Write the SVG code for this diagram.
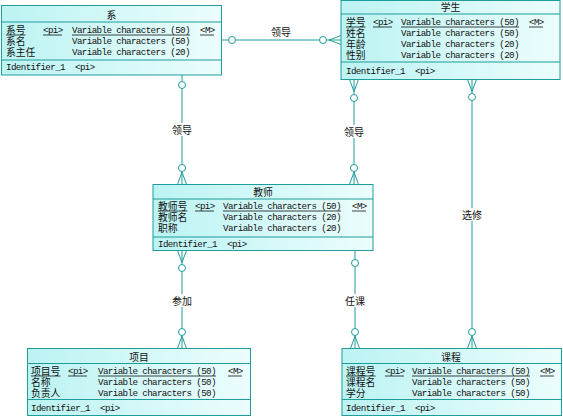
<svg xmlns="http://www.w3.org/2000/svg" width="563" height="417" viewBox="0 0 563 417">
<defs>
<linearGradient id="fill" x1="0" y1="0" x2="1" y2="0">
<stop offset="0" stop-color="#bcf3f3"/>
<stop offset="1" stop-color="#ecfdfd"/>
</linearGradient>
</defs>
<style>
.box{fill:url(#fill);stroke:#1f9c9c;stroke-width:1}
.sep{stroke:#1f9c9c;stroke-width:1}
.cj{font-family:"Noto Sans CJK SC","Noto Sans",sans-serif;font-size:9.8px;fill:#111}
.mo{font-family:"Liberation Mono","DejaVu Sans Mono",monospace;font-size:9.2px;letter-spacing:-0.6px;fill:#111}
.ttl{text-anchor:middle}
.ul{stroke:#111;stroke-width:0.8}
.cn{stroke:#1f9c9c;stroke-width:1;fill:none}
.ci{stroke:#1f9c9c;stroke-width:1;fill:#fff}
.lb{font-family:"Noto Sans CJK SC","Noto Sans",sans-serif;font-size:10px;fill:#111;text-anchor:middle}
.lbg{fill:#fff}
</style>

<g id="connectors">
<line class="cn" x1="221.5" y1="40" x2="341" y2="40"/>
<circle class="ci" cx="232" cy="40" r="3.5"/>
<circle class="ci" cx="323" cy="40" r="3.5"/>
<path class="cn" d="M341 35.5 L329 40 L341 44.5"/>
<text class="lb" x="281" y="35.5">领导</text>

<line class="cn" x1="182" y1="75" x2="182" y2="184.5"/>
<circle class="ci" cx="182" cy="85" r="3.5"/>
<circle class="ci" cx="182" cy="168" r="3.5"/>
<path class="cn" d="M177.5 184.5 L182 172 L186.5 184.5"/>
<rect class="lbg" x="171" y="123" width="22" height="13"/>
<text class="lb" x="182" y="133.5">领导</text>

<line class="cn" x1="354" y1="79.5" x2="354" y2="184.5"/>
<path class="cn" d="M349.5 79.5 L354 91.5 L358.5 79.5"/>
<circle class="ci" cx="354" cy="98" r="3.5"/>
<circle class="ci" cx="354" cy="168" r="3.5"/>
<path class="cn" d="M349.5 184.5 L354 172 L358.5 184.5"/>
<rect class="lbg" x="343" y="125" width="22" height="13"/>
<text class="lb" x="354" y="135.5">领导</text>

<line class="cn" x1="472" y1="79.5" x2="472" y2="348.5"/>
<path class="cn" d="M467.5 79.5 L472 91.5 L476.5 79.5"/>
<circle class="ci" cx="472" cy="97" r="3.5"/>
<circle class="ci" cx="472" cy="332" r="3.5"/>
<path class="cn" d="M467.5 348.5 L472 336 L476.5 348.5"/>
<rect class="lbg" x="461" y="208" width="22" height="13"/>
<text class="lb" x="472" y="218.5">选修</text>

<line class="cn" x1="182" y1="250.5" x2="182" y2="348.5"/>
<path class="cn" d="M177.5 250.5 L182 262.5 L186.5 250.5"/>
<circle class="ci" cx="182" cy="268" r="3.5"/>
<circle class="ci" cx="182" cy="332" r="3.5"/>
<path class="cn" d="M177.5 348.5 L182 336 L186.5 348.5"/>
<rect class="lbg" x="171" y="294" width="22" height="13"/>
<text class="lb" x="182" y="304.5">参加</text>

<line class="cn" x1="355" y1="250.5" x2="355" y2="348.5"/>
<circle class="ci" cx="355" cy="263" r="3.5"/>
<circle class="ci" cx="355" cy="332" r="3.5"/>
<path class="cn" d="M350.5 348.5 L355 336 L359.5 348.5"/>
<rect class="lbg" x="344" y="294" width="22" height="13"/>
<text class="lb" x="355" y="304.5">任课</text>
</g>

<g id="xi">
<rect class="box" x="1.5" y="5.5" width="220" height="69.5"/>
<text class="cj ttl" x="111.5" y="18.5">系</text>
<line class="sep" x1="1.5" y1="22" x2="221.5" y2="22"/>
<text class="cj" x="6" y="33.5">系号</text>
<text class="mo" x="43" y="33">&lt;pi&gt;</text>
<text class="mo" x="72" y="33">Variable characters (50)</text>
<text class="mo" x="200" y="33">&lt;M&gt;</text>
<line class="ul" x1="6" y1="35" x2="25.5" y2="35"/>
<line class="ul" x1="43" y1="35" x2="62" y2="35"/>
<line class="ul" x1="72" y1="35" x2="190" y2="35"/>
<line class="ul" x1="200" y1="35" x2="214" y2="35"/>
<text class="cj" x="6" y="44.5">系名</text>
<text class="mo" x="72" y="44">Variable characters (50)</text>
<text class="cj" x="6" y="55.5">系主任</text>
<text class="mo" x="72" y="55">Variable characters (20)</text>
<line class="sep" x1="1.5" y1="60" x2="221.5" y2="60"/>
<text class="mo" x="6" y="70">Identifier_1</text>
<text class="mo" x="75" y="70">&lt;pi&gt;</text>
</g>

<g id="xuesheng">
<rect class="box" x="341" y="0.5" width="219" height="79"/>
<text class="cj ttl" x="450.5" y="10.5">学生</text>
<line class="sep" x1="341" y1="14" x2="560" y2="14"/>
<text class="cj" x="346" y="25.5">学号</text>
<text class="mo" x="373" y="25">&lt;pi&gt;</text>
<text class="mo" x="401" y="25">Variable characters (50)</text>
<text class="mo" x="529" y="25">&lt;M&gt;</text>
<line class="ul" x1="346" y1="27" x2="365.5" y2="27"/>
<line class="ul" x1="373" y1="27" x2="392" y2="27"/>
<line class="ul" x1="401" y1="27" x2="519" y2="27"/>
<line class="ul" x1="529" y1="27" x2="543" y2="27"/>
<text class="cj" x="346" y="36.5">姓名</text>
<text class="mo" x="401" y="36">Variable characters (50)</text>
<text class="cj" x="346" y="47.5">年龄</text>
<text class="mo" x="401" y="47">Variable characters (20)</text>
<text class="cj" x="346" y="58.5">性别</text>
<text class="mo" x="401" y="58">Variable characters (20)</text>
<line class="sep" x1="341" y1="62" x2="560" y2="62"/>
<text class="mo" x="346" y="74">Identifier_1</text>
<text class="mo" x="415" y="74">&lt;pi&gt;</text>
</g>

<g id="jiaoshi">
<rect class="box" x="153" y="184.5" width="220" height="66"/>
<text class="cj ttl" x="263" y="195.5">教师</text>
<line class="sep" x1="153" y1="199" x2="373" y2="199"/>
<text class="cj" x="158" y="209.5">教师号</text>
<text class="mo" x="195" y="209">&lt;pi&gt;</text>
<text class="mo" x="223" y="209">Variable characters (50)</text>
<text class="mo" x="352" y="209">&lt;M&gt;</text>
<line class="ul" x1="158" y1="211" x2="187.5" y2="211"/>
<line class="ul" x1="195" y1="211" x2="214" y2="211"/>
<line class="ul" x1="223" y1="211" x2="341" y2="211"/>
<line class="ul" x1="352" y1="211" x2="366" y2="211"/>
<text class="cj" x="158" y="220.5">教师名</text>
<text class="mo" x="223" y="220">Variable characters (20)</text>
<text class="cj" x="158" y="231.5">职称</text>
<text class="mo" x="223" y="231">Variable characters (20)</text>
<line class="sep" x1="153" y1="237" x2="373" y2="237"/>
<text class="mo" x="158" y="246.5">Identifier_1</text>
<text class="mo" x="227" y="246.5">&lt;pi&gt;</text>
</g>

<g id="xiangmu">
<rect class="box" x="27.5" y="348.5" width="223" height="67"/>
<text class="cj ttl" x="139" y="360.5">项目</text>
<line class="sep" x1="27.5" y1="363.5" x2="250.5" y2="363.5"/>
<text class="cj" x="31" y="374.5">项目号</text>
<text class="mo" x="68" y="374">&lt;pi&gt;</text>
<text class="mo" x="98" y="374">Variable characters (50)</text>
<text class="mo" x="228" y="374">&lt;M&gt;</text>
<line class="ul" x1="31" y1="376" x2="60.5" y2="376"/>
<line class="ul" x1="68" y1="376" x2="87" y2="376"/>
<line class="ul" x1="98" y1="376" x2="216" y2="376"/>
<line class="ul" x1="228" y1="376" x2="242" y2="376"/>
<text class="cj" x="31" y="385.5">名称</text>
<text class="mo" x="98" y="385">Variable characters (50)</text>
<text class="cj" x="31" y="396.5">负责人</text>
<text class="mo" x="98" y="396">Variable characters (50)</text>
<line class="sep" x1="27.5" y1="399.5" x2="250.5" y2="399.5"/>
<text class="mo" x="31" y="411">Identifier_1</text>
<text class="mo" x="100" y="411">&lt;pi&gt;</text>
</g>

<g id="kecheng">
<rect class="box" x="342" y="348.5" width="219.5" height="67"/>
<text class="cj ttl" x="451" y="360.5">课程</text>
<line class="sep" x1="342" y1="363.5" x2="561.5" y2="363.5"/>
<text class="cj" x="346" y="374.5">课程号</text>
<text class="mo" x="385" y="374">&lt;pi&gt;</text>
<text class="mo" x="412" y="374">Variable characters (50)</text>
<text class="mo" x="540" y="374">&lt;M&gt;</text>
<line class="ul" x1="346" y1="376" x2="375.5" y2="376"/>
<line class="ul" x1="385" y1="376" x2="404" y2="376"/>
<line class="ul" x1="412" y1="376" x2="530" y2="376"/>
<line class="ul" x1="540" y1="376" x2="554" y2="376"/>
<text class="cj" x="346" y="385.5">课程名</text>
<text class="mo" x="412" y="385">Variable characters (50)</text>
<text class="cj" x="346" y="396.5">学分</text>
<text class="mo" x="412" y="396">Variable characters (50)</text>
<line class="sep" x1="342" y1="399.5" x2="561.5" y2="399.5"/>
<text class="mo" x="346" y="411">Identifier_1</text>
<text class="mo" x="415" y="411">&lt;pi&gt;</text>
</g>
</svg>
